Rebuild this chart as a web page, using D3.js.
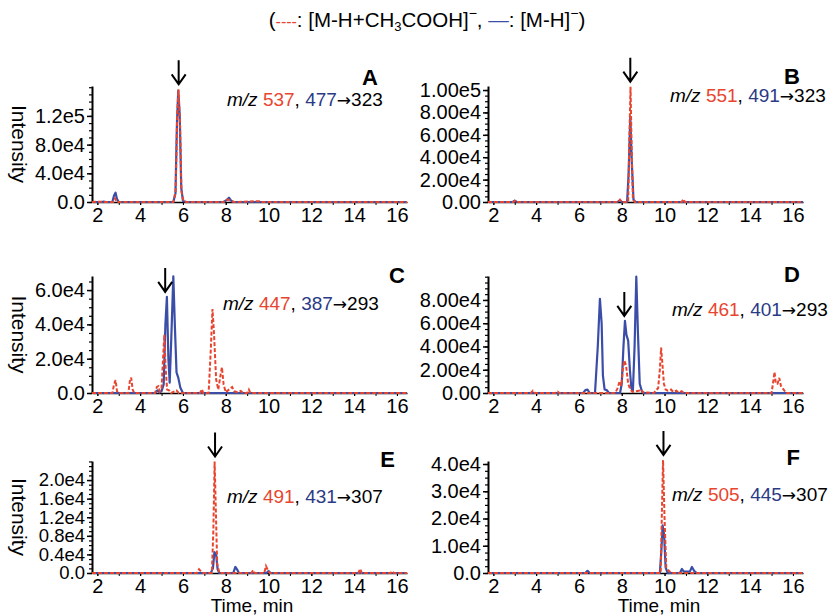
<!DOCTYPE html>
<html>
<head>
<meta charset="utf-8">
<script src="https://cdn.jsdelivr.net/npm/d3@7"></script>
<style>
body { margin: 0; background: #fff; }
svg { font-family: "Liberation Sans", Arial, sans-serif; }
</style>
</head>
<body>
<svg width="837" height="616"></svg>
<script>
// retention time (min), intensity
const blueA = [[1.75,0],[2.2,0],[2.3,600],[2.4,0],[2.7,0],[2.78,9000],[2.85,13000],[2.92,4000],[3.0,0],[5.55,0],[5.65,12000],[5.72,110000],[5.78,155000],[5.85,120000],[5.92,20000],[6.0,1500],[6.15,0],[7.9,0],[8.05,3000],[8.15,6000],[8.25,2000],[8.35,0],[16.47,0]]
const redA = [[1.75,0],[2.2,500],[2.3,0],[2.75,0],[2.83,5000],[2.92,0],[5.55,0],[5.66,15000],[5.73,120000],[5.79,157000],[5.86,115000],[5.93,15000],[6.02,2000],[6.15,0],[7.9,0],[8.1,3500],[8.25,1500],[8.4,0],[9.55,1200],[9.65,0],[16.47,0]]

const blueB = [[1.75,0],[2.9,0],[3.0,1200],[3.1,0],[7.8,0],[7.9,1500],[8.0,0],[8.25,0],[8.32,25000],[8.4,76000],[8.47,35000],[8.55,2000],[8.65,0],[16.47,0]]
const redB = [[1.75,0],[2.95,0],[3.0,900],[3.05,0],[7.85,0],[7.92,2000],[8.0,0],[8.3,0],[8.36,60000],[8.41,103000],[8.46,50000],[8.52,3000],[8.6,0],[10.8,0],[10.88,2500],[10.96,0],[16.47,0]]

const blueC = [[1.75,0],[4.7,0],[4.8,1500],[4.9,500],[5.0,1000],[5.1,5000],[5.18,40000],[5.25,56000],[5.32,20000],[5.38,6000],[5.45,30000],[5.55,68000],[5.62,40000],[5.7,12000],[5.78,9000],[5.88,3000],[6.0,0],[16.47,0]]
const redC = [[1.75,0],[2.7,0],[2.78,5000],[2.85,7500],[2.92,1000],[3.0,0],[3.45,0],[3.52,7000],[3.58,9000],[3.65,2000],[3.72,0],[4.7,0],[4.78,3500],[4.85,4000],[4.92,1000],[5.0,3000],[5.07,20000],[5.13,34000],[5.19,15000],[5.26,2000],[5.35,1500],[5.45,0],[5.7,1500],[5.8,0],[6.8,0],[6.88,2200],[6.95,0],[7.2,0],[7.3,25000],[7.38,49000],[7.45,35000],[7.55,8000],[7.65,2000],[7.75,10000],[7.82,15000],[7.9,5000],[8.0,500],[8.2,2500],[8.3,3500],[8.4,1000],[8.55,500],[8.7,1200],[8.8,0],[9.0,0],[9.08,2000],[9.15,0],[16.47,0]]

const blueD = [[1.75,0],[6.2,0],[6.3,2500],[6.4,3000],[6.5,0],[6.75,0],[6.88,40000],[6.98,81000],[7.06,60000],[7.12,15000],[7.2,3000],[7.3,2500],[7.4,0],[7.92,0],[8.0,8000],[8.08,40000],[8.15,62000],[8.22,50000],[8.3,45000],[8.38,20000],[8.45,4000],[8.52,1500],[8.6,40000],[8.68,100000],[8.76,50000],[8.84,8000],[8.95,1000],[9.05,0],[16.47,0]]
const redD = [[1.75,0],[3.75,0],[3.85,2000],[3.95,0],[4.9,0],[5.0,1200],[5.1,0],[7.7,0],[7.8,4000],[7.9,10000],[7.98,6000],[8.05,20000],[8.12,28000],[8.2,24000],[8.3,8000],[8.4,3000],[8.5,1000],[8.8,2000],[8.9,3000],[9.0,500],[9.5,0],[9.6,2500],[9.7,4000],[9.78,20000],[9.84,39000],[9.9,25000],[9.97,8000],[10.05,3000],[10.15,2000],[10.3,3000],[10.4,1000],[10.55,2000],[10.65,500],[10.8,1500],[10.9,0],[15.0,0],[15.08,10000],[15.14,18000],[15.2,8000],[15.28,8000],[15.36,13000],[15.44,6000],[15.52,4000],[15.6,2000],[15.7,0],[16.47,0]]

const blueE = [[1.75,0],[7.3,0],[7.4,1000],[7.47,4500],[7.55,4000],[7.62,800],[7.7,0],[8.35,0],[8.45,1300],[8.55,600],[8.62,0],[9.9,0],[10.0,400],[10.1,0],[16.47,0]]
const redE = [[1.75,0],[6.65,0],[6.75,800],[6.85,300],[6.95,0],[7.35,0],[7.42,9000],[7.48,24000],[7.54,13000],[7.6,2000],[7.7,0],[9.2,0],[9.28,600],[9.36,0],[9.8,0],[9.88,1500],[9.96,700],[10.05,0],[14.2,0],[14.28,900],[14.36,0],[15.7,0],[15.78,400],[15.86,0],[16.47,0]]

const blueF = [[1.75,0],[6.3,0],[6.4,800],[6.5,0],[9.78,0],[9.85,8000],[9.91,17500],[9.98,14000],[10.05,2000],[10.15,0],[10.72,0],[10.81,1500],[10.9,500],[11.18,500],[11.28,2200],[11.38,800],[11.5,0],[16.47,0]]
const redF = [[1.75,0],[9.82,0],[9.87,20000],[9.93,41500],[10.0,20000],[10.08,2000],[10.2,800],[10.3,0],[16.47,0]]

const panelLetters = ["A", "B", "C", "D", "E", "F"]
const adductIons = ["537", "551", "447", "461", "491", "505"]
const parentIons = ["477", "491", "387", "401", "431", "445"]
const productIons = ["323", "323", "293", "293", "307", "307"]
const arrowTimes = [5.8, 8.4, 5.17, 8.12, 7.5, 9.95]
const yMax = [1.617e5, 1.036e5, 6.82e4, 1.006e5, 2.41e4, 4.11e4]

const yTicks = [
    [0, 4e4, 8e4, 1.2e5],
    [0, 2e4, 4e4, 6e4, 8e4, 1e5],
    [0, 2e4, 4e4, 6e4],
    [0, 2e4, 4e4, 6e4, 8e4],
    [0, 4e3, 8e3, 1.2e4, 1.6e4, 2e4],
    [0, 1e4, 2e4, 3e4, 4e4]
]
const yTickLabels = [
    ["0.0", "4.0e4", "8.0e4", "1.2e5"],
    ["0.00", "2.00e4", "4.00e4", "6.00e4", "8.00e4", "1.00e5"],
    ["0.0", "2.0e4", "4.0e4", "6.0e4"],
    ["0.00", "2.00e4", "4.00e4", "6.00e4", "8.00e4"],
    ["0.0", "0.4e4", "0.8e4", "1.2e4", "1.6e4", "2.0e4"],
    ["0.0", "1.0e4", "2.0e4", "3.0e4", "4.0e4"]
]
const yMinorSteps = [1e4, 5e3, 5e3, 5e3, 1e3, 2.5e3]
const xTicks = [2, 4, 6, 8, 10, 12, 14, 16]

const series = [[blueA, redA], [blueB, redB], [blueC, redC], [blueD, redD], [blueE, redE], [blueF, redF]]

const RED = '#e8452f'
const BLUE = '#3a4ea8'
const NAVY = '#2b3a86'

// layout
const colX = [92, 488]
const rowY = [[86, 202], [276, 393], [461, 573]]
const plotW = 315
const letterPos = [[378, 85], [800, 84], [405, 283], [800, 282], [395, 467], [800, 465]]
const mzPos = [[227, 106], [670, 102], [223, 310], [672, 316], [227, 503], [672, 501]]
const yLabelSize = [20, 20, 20, 20, 18.5, 20]

const svg = d3.select('svg')

// legend line at top
const legend = svg.append('text')
    .attr('x', 427).attr('y', 27)
    .attr('text-anchor', 'middle')
    .attr('font-size', 20.5)
legend.append('tspan').text('(')
legend.append('tspan').attr('fill', RED).attr('font-size', 16).text('----')
legend.append('tspan').text(': [M-H+CH')
legend.append('tspan').attr('font-size', 13).attr('dy', 4).text('3')
legend.append('tspan').attr('dy', -4).text('COOH]')
legend.append('tspan').attr('font-size', 14).attr('dy', -9).text('\u2212')
legend.append('tspan').attr('dy', 9).text(', ')
legend.append('tspan').attr('fill', BLUE).text('\u2014')
legend.append('tspan').text(': [M-H]')
legend.append('tspan').attr('font-size', 14).attr('dy', -9).text('\u2212')
legend.append('tspan').attr('dy', 9).text(')')

const drawPanel = (i) => {
    const x0 = colX[i % 2]
    const [top, base] = rowY[Math.floor(i / 2)]
    const [blue, red] = series[i]

    const x = d3.scaleLinear().domain([1.75, 16.47]).range([x0, x0 + plotW])
    const y = d3.scaleLinear().domain([0, yMax[i]]).range([base, top])

    const g = svg.append('g')

    // x axis
    const xMinor = g.append('g')
        .attr('transform', `translate(0,${base})`)
        .call(d3.axisBottom(x).tickValues(d3.range(2, 17, 1)).tickSize(3).tickSizeOuter(0).tickFormat(''))
    xMinor.select('.domain').attr('stroke-width', 1.5)
    const xAxis = g.append('g')
        .attr('transform', `translate(0,${base})`)
        .call(d3.axisBottom(x).tickValues(xTicks).tickSize(3).tickSizeOuter(0).tickPadding(3))
    xAxis.select('.domain').remove()
    xAxis.selectAll('text').attr('font-size', 20).attr('fill', '#000')
        .attr('font-family', '"Liberation Sans", Arial, sans-serif')

    // y axis
    const yMinor = g.append('g')
        .attr('transform', `translate(${x0},0)`)
        .call(d3.axisLeft(y).tickValues(d3.range(0, yMax[i], yMinorSteps[i])).tickSize(3).tickSizeOuter(0).tickFormat(''))
    yMinor.select('.domain').attr('stroke-width', 2)
    yMinor.selectAll('line').attr('stroke-width', 1.2)
    const yAxis = g.append('g')
        .attr('transform', `translate(${x0},0)`)
        .call(d3.axisLeft(y).tickValues(yTicks[i]).tickFormat((d, k) => yTickLabels[i][k]).tickSize(5).tickPadding(2))
    yAxis.select('.domain').remove()
    yAxis.selectAll('line').attr('stroke-width', 1.5)
    yAxis.selectAll('text').attr('font-size', yLabelSize[i]).attr('fill', '#000')
        .attr('font-family', '"Liberation Sans", Arial, sans-serif')

    const line = d3.line().x(d => x(d[0])).y(d => y(d[1]))

    g.append('path').datum(blue)
        .attr('d', line).attr('fill', 'none')
        .attr('stroke', BLUE).attr('stroke-width', 2.2)
        .attr('stroke-linejoin', 'round')

    g.append('path').datum(red)
        .attr('d', line).attr('fill', 'none')
        .attr('stroke', RED).attr('stroke-width', 2)
        .attr('stroke-dasharray', '4,2')

    // arrow over the target peak
    const t = arrowTimes[i]
    const near = blue.concat(red).filter(d => Math.abs(d[0] - t) < 0.15)
    const tip = y(d3.max(near, d => d[1])) - 5
    const ax = x(t)
    g.append('path')
        .attr('d', `M${ax},${tip - 24}L${ax},${tip}M${ax - 7},${tip - 10}L${ax},${tip}L${ax + 7},${tip - 10}`)
        .attr('fill', 'none').attr('stroke', '#000').attr('stroke-width', 2)

    // panel letter
    g.append('text')
        .attr('x', letterPos[i][0]).attr('y', letterPos[i][1])
        .attr('text-anchor', 'end')
        .attr('font-size', 22).attr('font-weight', 'bold')
        .text(panelLetters[i])

    // m/z label
    const mz = g.append('text')
        .attr('x', mzPos[i][0]).attr('y', mzPos[i][1])
        .attr('font-size', 19)
    mz.append('tspan').attr('font-style', 'italic').text('m/z ')
    mz.append('tspan').attr('fill', RED).text(adductIons[i])
    mz.append('tspan').text(', ')
    mz.append('tspan').attr('fill', NAVY).text(parentIons[i])
    mz.append('tspan').attr('font-family', '"DejaVu Sans", sans-serif').attr('font-size', 17).text('\u2192')
    mz.append('tspan').text(productIons[i])

    if (i % 2 === 0) {
        g.append('text')
            .attr('transform', `translate(12,${(top + base) / 2}) rotate(90)`)
            .attr('text-anchor', 'middle')
            .attr('font-size', 21)
            .text('Intensity')
    }
    if (i >= 4) {
        g.append('text')
            .attr('x', i === 4 ? 252 : 659).attr('y', 612)
            .attr('text-anchor', 'middle')
            .attr('font-size', 19)
            .text('Time, min')
    }
}

d3.range(6).forEach(drawPanel)
</script>
</body>
</html>
